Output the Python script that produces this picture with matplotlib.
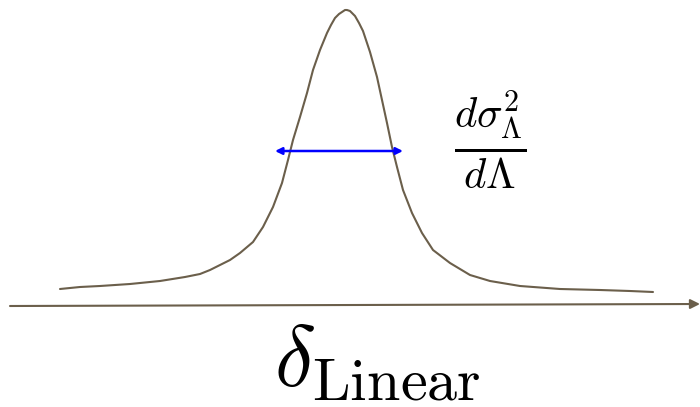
import numpy as np
import matplotlib
matplotlib.use("Agg")
import matplotlib.pyplot as plt

plt.rcParams['mathtext.fontset'] = 'cm'

# curve traced in canvas units (x to the right, y downward)
curve_x = [60, 80, 100, 130, 160, 185, 200, 210, 220, 230, 240, 253, 263, 273, 282, 288,
           293, 300, 307, 313, 320, 327, 331, 335, 339, 342, 345, 347, 350, 352, 355,
           359, 363, 370, 377, 382, 387, 392, 397, 403, 412, 422, 433, 450, 470, 490,
           520, 560, 600, 630, 653]
curve_y = [289, 287, 286, 284, 281, 277, 274, 270, 265, 260, 253, 242, 227, 207, 183, 160,
           140, 117, 93, 70, 50, 33, 25, 18, 14, 12, 10, 10, 11, 13, 16,
           23, 31, 52, 77, 100, 123, 147, 167, 190, 213, 233, 250, 263, 275, 281,
           286, 289, 290, 291, 292]

# horizontal axis
axis_x = [10, 700]
axis_y = [306, 304]

# width arrow
width_x = [275, 403]
width_y = 151

line_color = '#6b5f4b'

fig = plt.figure(figsize=(7, 4.07), dpi=100)
ax = fig.add_axes([0, 0, 1, 1])
ax.set_xlim(0, 700)
ax.set_ylim(407, 0)
ax.axis('off')

ax.plot(curve_x, curve_y, color=line_color, lw=1.5, solid_capstyle='round',
        solid_joinstyle='round')

ax.annotate('', xy=(axis_x[1], axis_y[1]), xytext=(axis_x[0], axis_y[0]),
            arrowprops=dict(arrowstyle='-|>', color=line_color, lw=1.5,
                            mutation_scale=14, shrinkA=0, shrinkB=0))

ax.annotate('', xy=(width_x[1], width_y), xytext=(width_x[0], width_y),
            arrowprops=dict(arrowstyle='<|-|>', color='#0000ff', lw=1.8,
                            mutation_scale=10, shrinkA=0, shrinkB=0))

ax.text(490, 140, r'$\frac{d\sigma_\Lambda^2}{d\Lambda}$', fontsize=44,
        ha='center', va='center')
ax.text(377, 362, r'$\delta_{\rm Linear}$', fontsize=62, ha='center', va='center')

fig.savefig('out.png', dpi=100)
